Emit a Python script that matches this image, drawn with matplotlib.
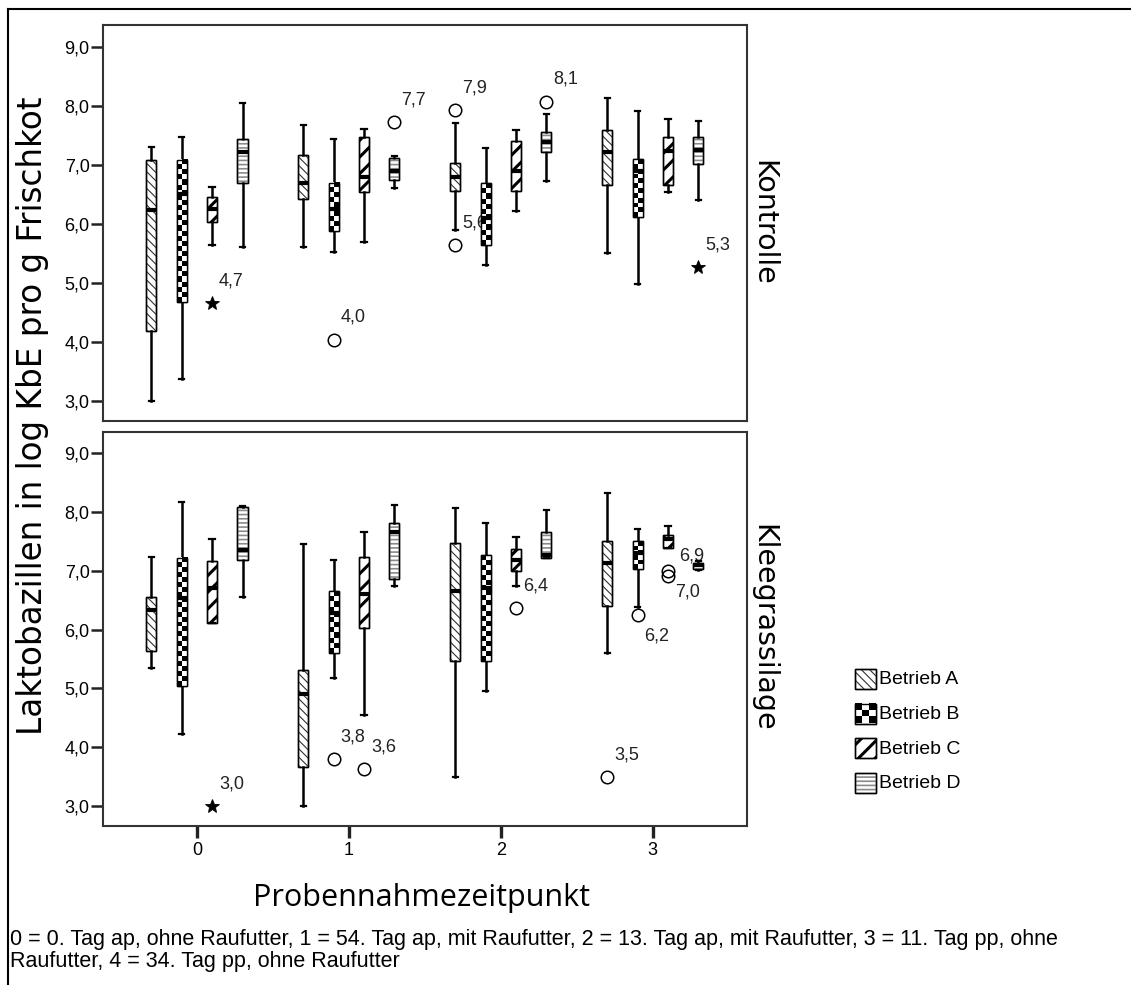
import numpy as np
import matplotlib
matplotlib.use("Agg")
import matplotlib.pyplot as plt
from matplotlib.patches import PathPatch, Rectangle
from matplotlib.lines import Line2D

# sampling times and farms
zeitpunkte = [0, 1, 2, 3]
betriebe = ["Betrieb A", "Betrieb B", "Betrieb C", "Betrieb D"]
panels = ["Kontrolle", "Kleegrassilage"]

# box statistics per farm and time: [whislo, q1, median, q3, whishi]
kontrolle = {
    "Betrieb A": [[3.00, 4.18, 6.23, 7.08, 7.30], [5.60, 6.43, 6.69, 7.17, 7.68],
                  [5.89, 6.55, 6.79, 7.04, 7.71], [5.50, 6.66, 7.21, 7.59, 8.14]],
    "Betrieb B": [[3.37, 4.67, 6.50, 7.08, 7.48], [5.53, 5.88, 6.26, 6.70, 7.43],
                  [5.31, 5.64, 6.10, 6.69, 7.28], [4.98, 6.12, 6.90, 7.10, 7.92]],
    "Betrieb C": [[5.64, 6.04, 6.26, 6.46, 6.63], [5.69, 6.54, 6.79, 7.47, 7.61],
                  [6.21, 6.55, 6.90, 7.41, 7.59], [6.54, 6.66, 7.24, 7.48, 7.78]],
    "Betrieb D": [[5.61, 6.70, 7.22, 7.44, 8.04], [6.60, 6.74, 6.90, 7.11, 7.15],
                  [6.72, 7.22, 7.39, 7.56, 7.86], [6.40, 7.01, 7.26, 7.47, 7.75]],
}
kleegras = {
    "Betrieb A": [[5.34, 5.63, 6.34, 6.56, 7.24], [3.00, 3.66, 4.91, 5.32, 7.46],
                  [3.49, 5.47, 6.65, 7.48, 8.07], [5.60, 6.41, 7.13, 7.51, 8.32]],
    "Betrieb B": [[4.22, 5.04, 6.54, 7.22, 8.17], [5.18, 5.60, 6.29, 6.65, 7.19],
                  [4.96, 5.47, 6.71, 7.27, 7.81], [6.39, 7.04, 7.30, 7.51, 7.72]],
    "Betrieb C": [[6.12, 6.12, 6.71, 7.17, 7.54], [4.54, 6.03, 6.60, 7.24, 7.66],
                  [6.75, 6.99, 7.19, 7.38, 7.58], [7.39, 7.39, 7.55, 7.61, 7.76]],
    "Betrieb D": [[6.56, 7.19, 7.35, 8.08, 8.11], [6.74, 6.86, 7.66, 7.82, 8.12],
                  [7.22, 7.22, 7.27, 7.66, 8.04], [7.02, 7.04, 7.10, 7.13, 7.16]],
}

# outliers: (time, farm, value, kind)  o = outlier, * = extreme
ausreisser_kontrolle = [
    (0, "Betrieb C", 4.66, "*"), (1, "Betrieb B", 4.04, "o"), (1, "Betrieb D", 7.73, "o"),
    (2, "Betrieb A", 7.93, "o"), (2, "Betrieb A", 5.64, "o"), (2, "Betrieb D", 8.07, "o"),
    (3, "Betrieb D", 5.27, "*"),
]
ausreisser_kleegras = [
    (0, "Betrieb C", 3.00, "*"), (1, "Betrieb B", 3.79, "o"), (1, "Betrieb C", 3.62, "o"),
    (2, "Betrieb C", 6.37, "o"), (3, "Betrieb A", 3.49, "o"), (3, "Betrieb B", 6.24, "o"),
    (3, "Betrieb C", 6.99, "o"), (3, "Betrieb C", 6.92, "o"),
]

footnote = ("0 = 0. Tag ap, ohne Raufutter, 1 = 54. Tag ap, mit Raufutter, 2 = 13. Tag ap, "
            "mit Raufutter, 3 = 11. Tag pp, ohne\nRaufutter, 4 = 34. Tag pp, ohne Raufutter")

# --- styling ---
W, H = 1131, 985
offsets = {"Betrieb A": -0.3, "Betrieb B": -0.1, "Betrieb C": 0.1, "Betrieb D": 0.3}
hatch_style = {
    "Betrieb A": dict(hatch="\\\\\\\\", color="#333333", lw=0.8),
    "Betrieb C": dict(hatch="//", color="black", lw=2.2),
    "Betrieb D": dict(hatch="----", color="#8a8a8a", lw=1.2),
}
# label placement (offset points) for a few outliers
label_offset = {"6,2": (5, -15), "7,0": (5, -15), "6,9": (8, 14)}

BOXW = 0.066
YLIM = (2.66, 9.37)
XLIM = (-0.62, 3.62)
FONT = "Liberation Sans"


def fmt(v):
    return f"{v:.1f}".replace(".", ",")


def checker(ax, x0, x1, y0, y1, cell_h, zorder):
    nrows = max(1, int(round((y1 - y0) / cell_h)))
    arr = (np.arange(nrows)[:, None] + np.arange(2)[None, :]) % 2
    ax.imshow(arr, extent=(x0, x1, y0, y1), cmap="gray", interpolation="nearest",
              aspect="auto", origin="lower", zorder=zorder, vmin=0, vmax=1)


def style_patch(ax, patch, name, zorder=2):
    patch.set_facecolor("white")
    patch.set_edgecolor("black")
    patch.set_linewidth(1.0)
    patch.set_zorder(zorder)
    if name in hatch_style:
        hs = hatch_style[name]
        hp = PathPatch(patch.get_path(), transform=patch.get_transform(),
                       facecolor="none", edgecolor=hs["color"], lw=0,
                       hatch=hs["hatch"], zorder=zorder + 0.1)
        if hasattr(hp, "set_hatch_linewidth"):
            hp.set_hatch_linewidth(hs["lw"])
        ax.add_patch(hp)
    ax.add_patch(PathPatch(patch.get_path(), transform=patch.get_transform(),
                           facecolor="none", edgecolor="black", lw=1.0,
                           zorder=zorder + 0.2))


def draw_panel(ax, data, outliers):
    for name in betriebe:
        stats = []
        for vals in data[name]:
            lo, q1, med, q3, hi = vals
            stats.append(dict(whislo=lo, q1=q1, med=med, q3=q3, whishi=hi, fliers=[]))
        pos = [t + offsets[name] for t in zeitpunkte]
        art = ax.bxp(stats, positions=pos, widths=BOXW, capwidths=0.035,
                     patch_artist=True, showfliers=False, manage_ticks=False,
                     whiskerprops=dict(color="black", lw=1.8),
                     capprops=dict(color="black", lw=1.6),
                     medianprops=dict(color="black", lw=3, solid_capstyle="butt", zorder=3))
        for p, st, x in zip(art["boxes"], stats, pos):
            style_patch(ax, p, name)
            if name == "Betrieb B":
                checker(ax, x - BOXW / 2, x + BOXW / 2, st["q1"], st["q3"], 0.085, 2.1)

    for t, name, v, kind in outliers:
        x = t + offsets[name]
        if kind == "*":
            ax.plot(x, v, marker="*", ms=10, color="black", mec="black", mew=0.6,
                    ls="none", zorder=4)
        else:
            ax.plot(x, v, marker="o", ms=9, mfc="none", mec="black", mew=1.1,
                    ls="none", zorder=4)
        lab = fmt(v)
        ax.annotate(lab, (x, v), xytext=label_offset.get(lab, (5, 16)),
                    textcoords="offset points", ha="left", va="center",
                    fontsize=13, family=FONT, color="#222222", zorder=1.5)

    ax.set_xlim(*XLIM)
    ax.set_ylim(*YLIM)
    ax.set_yticks(np.arange(3, 10))
    ax.set_yticklabels([fmt(v) for v in np.arange(3, 10)])
    ax.tick_params(axis="y", length=8.5, width=1.8, direction="out", color="#222222",
                   pad=1, labelsize=13, labelfontfamily=FONT)
    for s in ax.spines.values():
        s.set_linewidth(1.5)
        s.set_color("#333333")


fig = plt.figure(figsize=(W / 100, H / 100), dpi=100)
ax_top = fig.add_axes([102.7 / W, 1 - 421 / H, (747 - 102.7) / W, (421 - 25) / H])
ax_bot = fig.add_axes([102.7 / W, 1 - 825.7 / H, (747 - 102.7) / W, (825.7 - 431.7) / H])

draw_panel(ax_top, kontrolle, ausreisser_kontrolle)
draw_panel(ax_bot, kleegras, ausreisser_kleegras)

ax_top.set_xticks([])
ax_bot.set_xticks(zeitpunkte)
ax_bot.set_xticklabels([str(t) for t in zeitpunkte])
ax_bot.tick_params(axis="x", length=8.5, width=2.4, direction="out", color="#222222",
                   pad=3, labelsize=13, labelfontfamily=FONT)

# facet labels on the right
fig.text(763 / W, 1 - 223 / H, panels[0], rotation=-90, ha="center", va="center",
         fontsize=20.5, family="DejaVu Sans")
fig.text(763 / W, 1 - 628 / H, panels[1], rotation=-90, ha="center", va="center",
         fontsize=20.5, family="DejaVu Sans")

fig.text(33 / W, 1 - 416 / H, "Laktobazillen in log KbE pro g Frischkot", rotation=90,
         ha="center", va="center", fontsize=23.5, family="DejaVu Sans")
fig.text(422 / W, 1 - 898 / H, "Probennahmezeitpunkt", ha="center", va="center",
         fontsize=22, family="Open Sans")
fig.text(10 / W, 1 - 929 / H, footnote, ha="left", va="top", fontsize=15.5,
         family=FONT, linespacing=1.05)

# legend
lax = fig.add_axes([852 / W, 1 - 805 / H, 150 / W, 150 / H])
for i, name in enumerate(betriebe):
    yc = 24 + i * 34.5
    r = Rectangle((3, yc - 10), 21, 20)
    lax.add_patch(r)
    style_patch(lax, r, name)
    if name == "Betrieb B":
        lax.imshow((np.arange(3)[:, None] + np.arange(3)[None, :]) % 2,
                   extent=(3, 24, yc + 10, yc - 10), cmap="gray",
                   interpolation="nearest", aspect="auto", zorder=2.1, vmin=0, vmax=1)
    lax.text(27, yc + 1, name, ha="left", va="center", fontsize=14, family=FONT)
lax.set_xlim(0, 150)
lax.set_ylim(150, 0)
lax.axis("off")

# frame lines around the output
fig.add_artist(Line2D([8 / W, 1], [1 - 9 / H, 1 - 9 / H], transform=fig.transFigure,
                      color="black", lw=1.5))
fig.add_artist(Line2D([8 / W, 8 / W], [0, 1 - 9 / H], transform=fig.transFigure,
                      color="black", lw=1.5))

fig.savefig("out.png", dpi=100)
